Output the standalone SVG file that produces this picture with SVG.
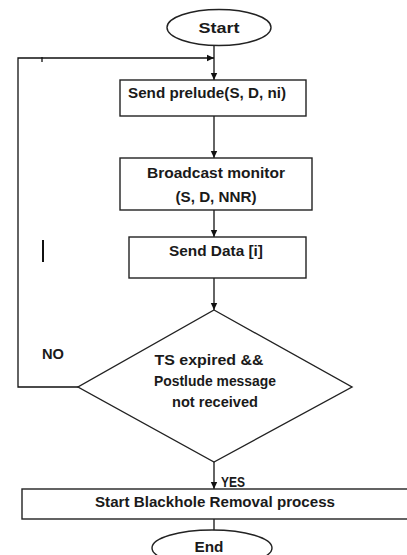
<svg xmlns="http://www.w3.org/2000/svg" width="407" height="555" viewBox="0 0 407 555">
<defs>
<style>
.sh{fill:#fff;stroke:#222;stroke-width:1.4}
.ln{fill:none;stroke:#111;stroke-width:1.3}
.t{font-family:"Liberation Sans",Arial,sans-serif;font-weight:bold;font-size:15px;fill:#1a1a1a}
.c{text-anchor:middle}
</style>
<marker id="ah" markerUnits="userSpaceOnUse" markerWidth="8" markerHeight="8" refX="7" refY="4" orient="auto">
<path d="M0,0.8 L7,4 L0,7.2 Z" fill="#111"/>
</marker>
</defs>
<rect width="407" height="555" fill="#fff"/>
<g id="connectors">
<line class="ln" x1="214" y1="46" x2="214" y2="80" marker-end="url(#ah)"/>
<line class="ln" x1="214" y1="116" x2="214" y2="158" marker-end="url(#ah)"/>
<line class="ln" x1="214" y1="210" x2="214" y2="237" marker-end="url(#ah)"/>
<line class="ln" x1="214" y1="278" x2="214" y2="310" marker-end="url(#ah)"/>
<line class="ln" x1="214" y1="462" x2="214" y2="489" marker-end="url(#ah)"/>
<line class="ln" x1="214" y1="519" x2="214" y2="530"/>
<polyline class="ln" points="78,387 18,387 18,58 214,58" marker-end="url(#ah)"/>
<line class="ln" x1="42" y1="57" x2="42" y2="62" stroke-width="0.8"/>
<text class="t" x="42" y="359" textLength="22" lengthAdjust="spacingAndGlyphs">NO</text>
<text class="t" x="221" y="487" textLength="24" lengthAdjust="spacingAndGlyphs">YES</text>
</g>
<line x1="43" y1="240" x2="43" y2="262" stroke="#111" stroke-width="2"/>
<g id="start">
<ellipse class="sh" cx="219" cy="27.5" rx="52" ry="18"/>
<text class="t c" x="219" y="33" textLength="41" lengthAdjust="spacingAndGlyphs">Start</text>
</g>
<g id="prelude">
<rect class="sh" x="120" y="80" width="186" height="36"/>
<text class="t" x="128" y="98" textLength="158" lengthAdjust="spacingAndGlyphs">Send prelude(S, D, ni)</text>
</g>
<g id="broadcast">
<rect class="sh" x="120" y="158" width="192" height="52"/>
<text class="t c" x="216" y="178" textLength="138" lengthAdjust="spacingAndGlyphs">Broadcast monitor</text>
<text class="t c" x="216" y="202" textLength="81" lengthAdjust="spacingAndGlyphs">(S, D, NNR)</text>
</g>
<g id="senddata">
<rect class="sh" x="129" y="237" width="177" height="41"/>
<text class="t c" x="216" y="256" textLength="94" lengthAdjust="spacingAndGlyphs">Send Data [i]</text>
</g>
<g id="decision">
<polygon class="sh" points="214,310 352,387 214,462 78,387"/>
<text class="t c" x="209" y="365" textLength="109" lengthAdjust="spacingAndGlyphs">TS expired &amp;&amp;</text>
<text class="t c" x="215" y="386" textLength="122" lengthAdjust="spacingAndGlyphs">Postlude message</text>
<text class="t c" x="215" y="407" textLength="86" lengthAdjust="spacingAndGlyphs">not received</text>
</g>
<g id="removal">
<rect class="sh" x="22" y="489" width="390" height="30"/>
<text class="t c" x="215" y="507" textLength="240" lengthAdjust="spacingAndGlyphs">Start Blackhole Removal process</text>
</g>
<g id="end">
<ellipse class="sh" cx="212" cy="548" rx="60" ry="18"/>
<text class="t c" x="209" y="552" textLength="29" lengthAdjust="spacingAndGlyphs">End</text>
</g>
</svg>
